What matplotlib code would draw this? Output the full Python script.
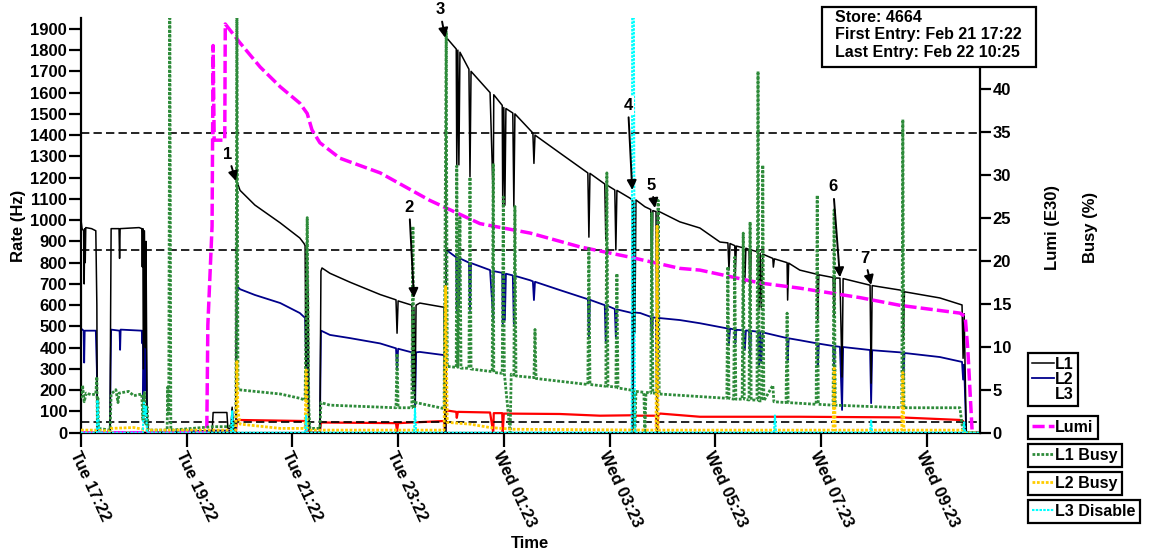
import matplotlib
matplotlib.use('Agg')
import matplotlib.pyplot as plt
from matplotlib.lines import Line2D
from matplotlib.patches import Rectangle

# time axis: hours since Tue 17:22
TICK_HOURS = [0, 2, 4, 6, 8, 10, 12, 14, 16]
TICK_LABELS = ['Tue 17:22', 'Tue 19:22', 'Tue 21:22', 'Tue 23:22', 'Wed 01:23',
               'Wed 03:23', 'Wed 05:23', 'Wed 07:23', 'Wed 09:23']
T_END = 17.01

# rates (Hz), left axis: (hour, value)
L1 = [(0.00, 1000), (0.02, 960), (0.05, 950), (0.06, 700), (0.07, 960), (0.08, 800), (0.09, 965),
      (0.20, 960), (0.28, 950), (0.30, 600), (0.31, 0), (0.55, 0), (0.56, 550), (0.57, 960),
      (0.72, 960), (0.73, 820), (0.74, 960), (1.10, 965), (1.15, 960), (1.16, 780), (1.17, 960),
      (1.18, 300), (1.20, 950), (1.22, 400), (1.23, 900), (1.25, 100), (1.27, 0), (2.48, 0),
      (2.50, 95), (2.76, 95), (2.78, 20), (2.84, 20), (2.86, 120), (2.88, 10), (2.93, 30),
      (2.95, 1180), (3.01, 1140), (3.29, 1071), (3.77, 987), (4.14, 916), (4.22, 890), (4.24, 880),
      (4.26, 150), (4.28, 870), (4.30, 600), (4.31, 100), (4.33, 0), (4.52, 0), (4.54, 760),
      (4.56, 775), (4.71, 750), (5.09, 708), (5.66, 650), (5.96, 625), (5.98, 468), (6.00, 620),
      (6.26, 600), (6.28, 200), (6.30, 590), (6.32, 150), (6.34, 600), (6.41, 610), (6.87, 590),
      (6.89, 0), (6.90, 0), (6.91, 1860), (7.10, 1805), (7.11, 1250), (7.13, 1800), (7.15, 1260),
      (7.17, 1790), (7.34, 1710), (7.36, 1204), (7.38, 1700), (7.74, 1600), (7.80, 1094),
      (7.81, 1590), (7.97, 1540), (7.98, 1063), (8.00, 1530), (8.02, 1070), (8.04, 1525),
      (8.17, 1504), (8.19, 1063), (8.21, 1500), (8.55, 1410), (8.57, 1267), (8.59, 1400),
      (9.06, 1316), (9.59, 1222), (9.61, 920), (9.63, 1220), (9.91, 1170), (9.93, 906),
      (9.95, 1165), (10.10, 1142), (10.12, 860), (10.14, 1140), (10.39, 1103), (10.43, 1095),
      (10.44, 0), (10.46, 1090), (10.48, 470), (10.50, 1095), (10.67, 1063), (10.78, 1050),
      (10.80, 720), (10.82, 1045), (10.88, 1040), (10.90, 0), (10.92, 1040), (10.96, 1038),
      (11.33, 992), (11.71, 963), (12.09, 897), (12.24, 893), (12.26, 765), (12.28, 890),
      (12.37, 880), (12.38, 750), (12.40, 878), (12.53, 870), (12.56, 704), (12.58, 868),
      (12.64, 862), (12.66, 639), (12.68, 860), (12.81, 850), (12.83, 577), (12.85, 845),
      (12.87, 590), (12.90, 840), (13.09, 820), (13.10, 779), (13.12, 818), (13.36, 800),
      (13.37, 624), (13.39, 798), (13.60, 765), (13.93, 745), (13.94, 530), (13.96, 743),
      (14.23, 730), (14.25, 545), (14.27, 728), (14.36, 727), (14.40, 262), (14.42, 725),
      (14.93, 694), (14.95, 233), (14.97, 692), (15.50, 671), (15.55, 665), (15.56, 435),
      (15.58, 663), (16.25, 634), (16.67, 601), (16.69, 350), (16.71, 560), (16.73, 280),
      (16.75, 0), (17.01, 0)]

L2 = [(0.00, 490), (0.05, 480), (0.06, 330), (0.07, 480), (0.28, 480), (0.30, 300), (0.31, 0),
      (0.55, 0), (0.56, 300), (0.57, 485), (0.73, 480), (0.74, 390), (0.75, 485), (1.15, 480),
      (1.16, 420), (1.17, 480), (1.18, 150), (1.20, 470), (1.22, 200), (1.23, 450), (1.25, 50),
      (1.27, 0), (2.50, 10), (2.84, 10), (2.86, 110), (2.88, 10), (2.93, 20), (2.95, 690),
      (3.01, 675), (3.29, 648), (3.77, 610), (4.14, 563), (4.22, 545), (4.24, 540), (4.26, 300),
      (4.28, 530), (4.30, 100), (4.33, 0), (4.52, 0), (4.54, 480), (4.56, 478), (4.71, 460),
      (5.09, 445), (5.66, 420), (5.96, 397), (5.98, 294), (6.00, 395), (6.26, 378), (6.28, 201),
      (6.30, 375), (6.32, 100), (6.34, 378), (6.41, 380), (6.87, 365), (6.89, 0), (6.90, 0),
      (6.91, 860), (7.10, 825), (7.11, 577), (7.13, 822), (7.15, 600), (7.17, 820), (7.34, 800),
      (7.36, 577), (7.38, 798), (7.74, 765), (7.80, 530), (7.81, 760), (7.97, 752), (7.98, 515),
      (8.00, 750), (8.02, 530), (8.04, 748), (8.17, 740), (8.19, 515), (8.21, 738), (8.50, 717),
      (8.55, 712), (8.57, 624), (8.59, 710), (9.06, 671), (9.59, 628), (9.61, 450), (9.63, 625),
      (9.91, 600), (9.93, 421), (9.95, 598), (10.10, 582), (10.12, 450), (10.14, 580),
      (10.39, 565), (10.43, 563), (10.44, 0), (10.46, 560), (10.50, 565), (10.58, 563),
      (10.78, 545), (10.80, 450), (10.82, 543), (10.88, 540), (10.90, 0), (10.92, 540),
      (11.33, 530), (11.71, 515), (12.24, 490), (12.26, 421), (12.28, 490), (12.37, 485),
      (12.38, 421), (12.40, 484), (12.53, 482), (12.56, 389), (12.58, 481), (12.64, 480),
      (12.66, 357), (12.68, 479), (12.81, 475), (12.83, 310), (12.85, 474), (12.87, 330),
      (12.90, 472), (13.36, 445), (13.37, 342), (13.39, 444), (13.60, 435), (13.93, 420),
      (13.94, 310), (13.96, 419), (14.23, 408), (14.25, 310), (14.27, 407), (14.36, 404),
      (14.40, 107), (14.42, 403), (14.93, 389), (14.95, 139), (14.97, 388), (15.50, 378),
      (15.55, 376), (15.56, 248), (15.58, 375), (16.25, 356), (16.67, 333), (16.69, 250),
      (16.71, 320), (16.73, 150), (16.75, 0), (17.01, 0)]

L3 = [(0.00, 0), (2.93, 0), (2.95, 60), (4.24, 55), (4.26, 10), (4.28, 50), (4.31, 0), (4.52, 0),
      (4.54, 48), (5.96, 45), (5.98, 5), (6.00, 45), (6.87, 55), (6.89, 0), (6.91, 105),
      (7.10, 98), (7.11, 70), (7.13, 98), (7.74, 95), (7.80, 0), (7.81, 92), (7.97, 92),
      (7.98, 0), (8.00, 90), (9.06, 88), (9.82, 80), (10.43, 82), (10.44, 0), (10.46, 80),
      (10.88, 80), (10.90, 0), (10.92, 82), (10.96, 90), (11.71, 75), (13.60, 75), (15.50, 72),
      (16.63, 60), (16.69, 55), (16.73, 0), (17.01, 0)]

# right axis: Lumi (E30) and busy/disable fractions (%)
LUMI = [(0.00, 0), (2.38, 0), (2.40, 12.5), (2.48, 24), (2.50, 45), (2.52, 34), (2.72, 34),
        (2.73, 47.5), (3.01, 45.3), (3.39, 42.5), (3.77, 40.2), (4.14, 38.3), (4.28, 37.1),
        (4.37, 35.2), (4.52, 33.7), (4.90, 31.9), (5.66, 30.2), (6.60, 27.0), (7.55, 24.3),
        (8.50, 23.2), (9.44, 21.6), (10.39, 20.4), (11.33, 19.1), (11.71, 18.9), (12.85, 17.4),
        (13.60, 16.8), (14.74, 15.7), (15.50, 14.8), (16.63, 13.9), (16.73, 13.5), (16.78, 9.6),
        (16.86, 0.3), (16.92, 0), (17.01, 0)]

L1_BUSY = [(0.00, 4.0), (0.03, 5.5), (0.06, 3.6), (0.10, 4.6), (0.20, 4.4), (0.28, 4.5),
           (0.30, 6.5), (0.31, 1.0), (0.32, 4.0), (0.33, 0.5), (0.55, 0.3), (0.57, 4.5),
           (0.66, 5.0), (0.70, 3.5), (0.72, 4.6), (0.90, 4.8), (1.00, 4.3), (1.15, 4.5),
           (1.17, 1.5), (1.20, 4.8), (1.23, 1.0), (1.25, 3.0), (1.27, 0.3), (1.63, 0.3),
           (1.64, 5.3), (1.66, 2.0), (1.68, 50), (1.70, 0.3), (2.50, 0.7), (2.78, 0.7),
           (2.93, 1.0), (2.95, 50), (2.97, 5.0), (3.29, 4.8), (3.77, 4.5), (4.14, 4.0),
           (4.24, 3.8), (4.28, 25), (4.31, 3.0), (4.33, 0.5), (4.52, 0.5), (4.54, 3.5),
           (4.71, 3.2), (5.96, 2.9), (5.98, 9.2), (6.00, 2.9), (6.26, 2.9), (6.28, 24),
           (6.30, 2.8), (6.34, 3.5), (6.87, 2.8), (6.91, 46.6), (6.93, 7.7), (7.10, 7.6),
           (7.11, 31), (7.13, 7.6), (7.17, 25), (7.19, 7.5), (7.34, 7.5), (7.36, 29.7),
           (7.38, 7.4), (7.78, 7.1), (7.80, 31.3), (7.81, 7.0), (7.97, 6.9), (7.99, 27.4),
           (8.01, 6.9), (8.12, 0), (8.14, 6.8), (8.19, 6.7), (8.21, 26.3), (8.23, 6.6),
           (8.57, 6.4), (8.59, 12), (8.61, 6.3), (9.44, 5.7), (9.59, 5.6), (9.61, 21.6),
           (9.63, 5.6), (9.93, 5.4), (9.95, 30.2), (9.97, 5.4), (10.12, 5.3), (10.14, 18.5),
           (10.16, 5.2), (10.46, 4.9), (10.48, 0), (10.50, 4.8), (10.65, 4.7), (10.67, 0),
           (10.69, 4.7), (10.78, 4.6), (10.80, 25.5), (10.82, 4.6), (10.90, 4.6), (10.92, 27),
           (10.94, 4.5), (11.71, 4.2), (12.22, 4.0), (12.24, 19.3), (12.26, 4.0), (12.35, 3.9),
           (12.37, 20.4), (12.39, 3.9), (12.51, 3.9), (12.53, 23.2), (12.55, 3.9), (12.64, 3.8),
           (12.66, 24.5), (12.68, 3.8), (12.79, 3.8), (12.81, 42), (12.83, 3.7), (12.88, 3.7),
           (12.90, 31.1), (12.92, 3.7), (13.09, 5.5), (13.11, 3.6), (13.34, 3.5), (13.36, 13.9),
           (13.38, 3.5), (13.91, 3.3), (13.93, 27.6), (13.95, 3.3), (14.23, 3.2), (14.25, 25.9),
           (14.27, 3.2), (15.50, 2.9), (15.53, 2.9), (15.55, 36.4), (15.57, 2.9), (16.63, 2.9),
           (16.69, 0), (17.01, 0)]

L2_BUSY = [(0.00, 0.3), (0.30, 0.3), (0.55, 0.2), (0.57, 0.5), (1.00, 0.6), (1.25, 0.3),
           (2.93, 0.3), (2.95, 8.4), (2.97, 2.5), (3.01, 1.0), (3.77, 0.5), (4.24, 0.5),
           (4.26, 7.3), (4.28, 0.5), (4.33, 0.3), (6.87, 0.3), (6.90, 17), (6.93, 1.2),
           (7.36, 1.0), (7.74, 0.6), (8.17, 0.4), (10.88, 0.3), (10.90, 24), (10.92, 0.3),
           (14.23, 0.3), (14.25, 7.5), (14.27, 0.3), (15.53, 0.3), (15.55, 7.0), (15.57, 0.3),
           (16.69, 0.3), (16.73, 0), (17.01, 0)]

L3_DISABLE = [(0.00, 0), (0.30, 0), (0.31, 3.8), (0.33, 1.5), (0.35, 0), (1.17, 0), (1.19, 3.5),
              (1.21, 2.0), (1.23, 3.0), (1.25, 0), (2.84, 0), (2.86, 2.5), (2.88, 0), (4.24, 0),
              (4.26, 2.0), (4.28, 0), (6.30, 0), (6.32, 2.8), (6.34, 0), (10.42, 0), (10.43, 50),
              (10.46, 50), (10.48, 0), (13.11, 0), (13.13, 2.0), (13.15, 0), (14.93, 0),
              (14.95, 1.5), (14.97, 0), (16.69, 0), (16.71, 1.2), (16.73, 0), (17.01, 0)]

THRESHOLDS = [1410, 860, 52]

# numbered markers: label, text (hour, Hz), arrow tip (hour, Hz)
MARK_LABELS = ['1', '2', '3', '4', '5', '6', '7']
MARK_TEXT = [(2.78, 1310), (6.21, 1060), (6.79, 1990), (10.35, 1540), (10.79, 1165),
             (14.23, 1156), (14.83, 821)]
MARK_TIP = [(2.93, 1184), (6.30, 634), (6.89, 1858), (10.43, 1142), (10.86, 1057),
            (14.36, 731), (14.95, 695)]

INFO = ['Store: 4664', 'First Entry: Feb 21 17:22', 'Last Entry: Feb 22 10:25']

plt.rcParams['font.family'] = ['Liberation Sans', 'DejaVu Sans']
plt.rcParams['font.weight'] = 'bold'
plt.rcParams['font.size'] = 12

W, H = 1151, 554
fig = plt.figure(figsize=(W / 100, H / 100), dpi=100)
ax = fig.add_axes([81 / W, 1 - 432.7 / H, 899 / W, 414.7 / H])
ax2 = ax.twinx()


def xy(pts):
    return [p[0] for p in pts], [p[1] for p in pts]


t, v = xy(L3)
ax.plot(t, v, color='#ff0000', lw=1.6)
t, v = xy(L2)
ln_l2, = ax.plot(t, v, color='#00008b', lw=1.3)
t, v = xy(L1)
ln_l1, = ax.plot(t, v, color='black', lw=1.1)
for y in THRESHOLDS:
    ax.axhline(y, color='black', lw=1.2, ls=(0, (5, 2.5)))

t, v = xy(LUMI)
ln_lumi, = ax2.plot(t, v, color='#ff00ff', lw=2.5, ls=(0, (3.5, 1.2)))
t, v = xy(L1_BUSY)
ln_b1, = ax2.plot(t, v, color='#2e8b3a', lw=2.0, ls=(0, (1, 0.6)))
t, v = xy(L2_BUSY)
ln_b2, = ax2.plot(t, v, color='#ffcc00', lw=2.0, ls=(0, (1, 0.6)))
t, v = xy(L3_DISABLE)
ln_dis, = ax2.plot(t, v, color='#00ffff', lw=1.5, ls=(0, (1.2, 0.6)))

for lab, (tx, ty), (px, py) in zip(MARK_LABELS, MARK_TEXT, MARK_TIP):
    ax2.annotate(lab, xy=(px, py), xytext=(tx, ty), xycoords=ax.transData,
                 textcoords=ax.transData, ha='center', va='center', fontsize=12,
                 annotation_clip=False,
                 bbox=dict(boxstyle='square,pad=0.1', fc='white', ec='none'),
                 arrowprops=dict(arrowstyle='-|>', color='black', lw=1.4,
                                 mutation_scale=14, shrinkA=2, shrinkB=0))

ax.set_xlim(0, T_END)
ax.set_ylim(0, 1951)
ax2.set_ylim(0, 48.2)
ax.set_yticks(range(0, 2000, 100))
ax2.set_yticks(range(0, 45, 5))
ax.set_xticks(TICK_HOURS)
ax.set_xticklabels(TICK_LABELS, rotation=-65, ha='left', va='top', rotation_mode='anchor')

for a in (ax, ax2):
    a.spines['top'].set_visible(False)
    for s in a.spines.values():
        s.set_linewidth(1.6)
ax.spines['right'].set_visible(False)
ax2.spines['left'].set_visible(False)
ax2.spines['bottom'].set_visible(False)
ax.tick_params(axis='y', length=9, width=1.6, pad=1, labelsize=12)
ax.tick_params(axis='x', length=10, width=1.6, pad=2, labelsize=12)
ax2.tick_params(axis='y', length=8, width=1.6, pad=1, labelsize=12)

fig.text(18 / W, 1 - 226 / H, 'Rate (Hz)', rotation=90, ha='center', va='center', fontsize=12)
fig.text(530 / W, 1 - 543 / H, 'Time', ha='center', va='center', fontsize=12)
fig.text(1053 / W, 1 - 227 / H, 'Lumi (E30)', rotation=90, ha='center', va='center', fontsize=12)
fig.text(1090 / W, 1 - 227 / H, 'Busy (%)', rotation=90, ha='center', va='center', fontsize=12)

# store info box
fig.add_artist(Rectangle((822 / W, 1 - 67 / H), 214 / W, 60 / H, transform=fig.transFigure,
                         fc='white', ec='black', lw=1.6, zorder=10))
for i, line in enumerate(INFO):
    fig.text(835 / W, 1 - (17 + 17.5 * i) / H, line, ha='left', va='center',
             fontsize=11.5, zorder=11)

# legends
blank = Line2D([], [], color='none')
groups = [([ln_l1, ln_l2, blank], ['L1', 'L2', 'L3'], 353),
          ([ln_lumi], ['Lumi'], 416),
          ([ln_b1], ['L1 Busy'], 444),
          ([ln_b2], ['L2 Busy'], 472),
          ([ln_dis], ['L3 Disable'], 500)]
for hs, labs, top in groups:
    leg = fig.legend(hs, labs, loc='upper left', bbox_to_anchor=(1028 / W, 1 - top / H),
                     bbox_transform=fig.transFigure, borderaxespad=0, fontsize=11.5,
                     handlelength=1.4, handletextpad=0.05, labelspacing=0.0,
                     borderpad=0.25, fancybox=False, framealpha=1, edgecolor='black')
    leg.get_frame().set_linewidth(1.6)

fig.savefig('out.png', dpi=100)
